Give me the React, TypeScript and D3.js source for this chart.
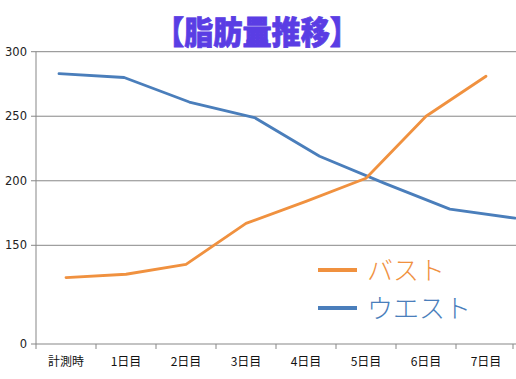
import React from "react";
import * as d3 from "d3";

const categories = ["計測時", "1日目", "2日目", "3日目", "4日目", "5日目", "6日目", "7日目"];
const bust = [101, 106, 121, 167, 184, 202, 250, 281];
const waist = [283, 280, 261, 249, 219, 198, 178, 171];
const yTicks = [0, 150, 200, 250, 300];
const seriesNames = ["バスト", "ウエスト"];
const title = "【脂肪量推移】";

const W = 516;
const H = 379;
const left = 36;
const right = 516;
const bottom = 344;
const top = 51.7;

export default function App() {
  const x = d3.scaleBand().domain(categories).range([left, left + 60 * categories.length]);
  const y = d3.scaleLinear().domain([0, 150, 300]).range([bottom, 245.3, top]);
  // waist line drawn slightly spread across the plot (as in the reference)
  const xw = d3.scaleLinear().domain([0, categories.length - 1]).range([59, 515]);
  const xb = (i: number) => (x(categories[i]) as number) + x.bandwidth() / 2;

  const lineB = d3
    .line<number>()
    .x((_, i) => xb(i))
    .y((d) => y(d));
  const lineW = d3
    .line<number>()
    .x((_, i) => xw(i))
    .y((d) => y(d));

  const orange = "#F0913F";
  const blue = "#4A7EBB";
  const grid = "#878787";
  const labelFont = "'DejaVu Sans', 'Noto Sans CJK JP', sans-serif";

  return (
    <svg
      width={W}
      height={H}
      style={{ position: "absolute", left: 0, top: 0, background: "#fff" }}
    >
      <rect width={W} height={H} fill="#fff" />
      <text
        x={257}
        y={44}
        textAnchor="middle"
        fontFamily="'Noto Sans CJK JP', sans-serif"
        fontWeight={900}
        fontSize={32}
        fill="#5A3DE4"
        stroke="#5A3DE4"
        strokeWidth={0.8}
        textLength={204}
        lengthAdjust="spacingAndGlyphs"
      >
        {title}
      </text>
      {yTicks.map((t) => (
        <g key={t}>
          {t > 0 && (
            <line x1={left} x2={right} y1={y(t)} y2={y(t)} stroke={grid} strokeWidth={1} />
          )}
          <line x1={left - 5} x2={left} y1={y(t)} y2={y(t)} stroke={grid} strokeWidth={1} />
          <text
            x={27}
            y={y(t) + 4}
            textAnchor="end"
            fontFamily={labelFont}
            fontSize={11.5}
            fill="#222"
          >
            {t}
          </text>
        </g>
      ))}
      <line x1={left} x2={left} y1={top} y2={bottom} stroke={grid} strokeWidth={1} />
      <line x1={left} x2={right} y1={bottom} y2={bottom} stroke={grid} strokeWidth={1} />
      {categories.map((c, i) => (
        <g key={c}>
          <line
            x1={(x(c) as number)}
            x2={(x(c) as number)}
            y1={bottom}
            y2={bottom + 5}
            stroke={grid}
            strokeWidth={1}
          />
          <text
            x={xb(i)}
            y={366}
            textAnchor="middle"
            fontFamily="'Noto Sans CJK JP', sans-serif"
            fontSize={12}
            fill="#111"
          >
            {c}
          </text>
        </g>
      ))}
      <line x1={513} x2={513} y1={bottom} y2={bottom + 5} stroke={grid} strokeWidth={1} />
      <path d={lineW(waist) || ""} fill="none" stroke={blue} strokeWidth={2.8} strokeLinejoin="round" strokeLinecap="round" />
      <path d={lineB(bust) || ""} fill="none" stroke={orange} strokeWidth={2.8} strokeLinejoin="round" strokeLinecap="round" />
      {seriesNames.map((n, i) => (
        <g key={n}>
          <line
            x1={318}
            x2={357}
            y1={270 + i * 38}
            y2={270 + i * 38}
            stroke={i === 0 ? orange : blue}
            strokeWidth={4}
          />
          <text
            x={367}
            y={280 + i * 38}
            fontFamily="'Noto Sans CJK JP', sans-serif"
            fontWeight={300}
            fontSize={26}
            fill={i === 0 ? orange : blue}
          >
            {n}
          </text>
        </g>
      ))}
    </svg>
  );
}
